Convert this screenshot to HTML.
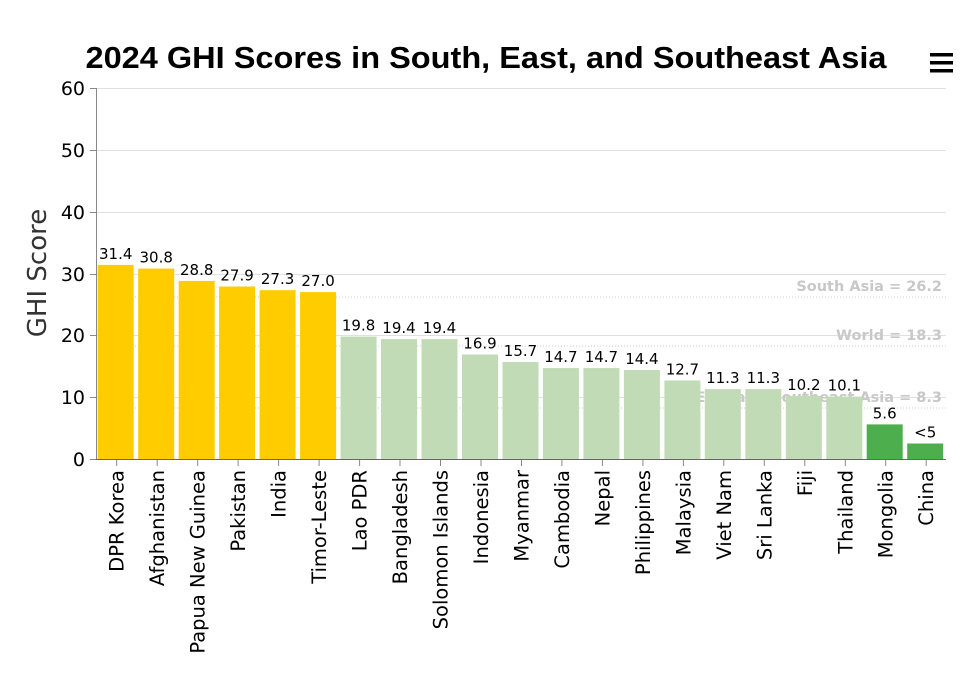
<!DOCTYPE html>
<html><head><meta charset="utf-8"><style>body{margin:0;background:#fff}svg{display:block}</style></head>
<body>
<svg width="973" height="690" xmlns="http://www.w3.org/2000/svg" font-family="'DejaVu Sans','Liberation Sans',sans-serif">
<rect width="973" height="690" fill="#fff"/>
<text x="486" y="68" text-anchor="middle" font-family="'Liberation Sans',sans-serif" font-weight="bold" font-size="31" textLength="801" lengthAdjust="spacingAndGlyphs">2024 GHI Scores in South, East, and Southeast Asia</text>
<g fill="#000"><rect x="930" y="53" width="23" height="3.5"/><rect x="930" y="61" width="23" height="3.5"/><rect x="930" y="69" width="23" height="3.5"/></g>
<g stroke="#e0e0e0" stroke-width="1">
<line x1="96" x2="946" y1="88.5" y2="88.5"/><line x1="96" x2="946" y1="150.5" y2="150.5"/><line x1="96" x2="946" y1="212.5" y2="212.5"/><line x1="96" x2="946" y1="274.5" y2="274.5"/><line x1="96" x2="946" y1="335.5" y2="335.5"/><line x1="96" x2="946" y1="397.5" y2="397.5"/>
</g>
<g stroke="#ccc" stroke-dasharray="1,2"><line x1="96" x2="946" y1="297" y2="297"/><line x1="96" x2="946" y1="346" y2="346"/><line x1="96" x2="946" y1="408" y2="408"/></g>
<g font-size="14.5" font-weight="bold" fill="#c8c8c8" text-anchor="end" font-family="'DejaVu Sans',sans-serif">
<text x="942" y="291">South Asia = 26.2</text><text x="942" y="340">World = 18.3</text><text x="942" y="402">East and Southeast Asia = 8.3</text></g>
<g font-size="19" text-anchor="end" fill="#000"><text x="85" y="95">60</text><text x="85" y="157">50</text><text x="85" y="219">40</text><text x="85" y="281">30</text><text x="85" y="342">20</text><text x="85" y="404">10</text><text x="85" y="466">0</text></g>
<text transform="translate(46,273) rotate(-90)" text-anchor="middle" font-size="26" fill="#333">GHI Score</text>
<g fill="#ffcc00">
<rect x="97.7" y="264.9" width="36" height="194.1"/>
<rect x="138.2" y="268.6" width="36" height="190.4"/>
<rect x="178.7" y="280.9" width="36" height="178.1"/>
<rect x="219.1" y="286.5" width="36" height="172.5"/>
<rect x="259.6" y="290.2" width="36" height="168.8"/>
<rect x="300.1" y="292.1" width="36" height="166.9"/>
</g>
<g fill="#c1dbb6">
<rect x="340.6" y="336.6" width="36" height="122.4"/>
<rect x="381.0" y="339.1" width="36" height="119.9"/>
<rect x="421.5" y="339.1" width="36" height="119.9"/>
<rect x="462.0" y="354.5" width="36" height="104.5"/>
<rect x="502.5" y="361.9" width="36" height="97.1"/>
<rect x="542.9" y="368.1" width="36" height="90.9"/>
<rect x="583.4" y="368.1" width="36" height="90.9"/>
<rect x="623.9" y="370.0" width="36" height="89.0"/>
<rect x="664.4" y="380.5" width="36" height="78.5"/>
<rect x="704.8" y="389.1" width="36" height="69.9"/>
<rect x="745.3" y="389.1" width="36" height="69.9"/>
<rect x="785.8" y="395.9" width="36" height="63.1"/>
<rect x="826.3" y="396.6" width="36" height="62.4"/>
</g>
<g fill="#4cae4c">
<rect x="866.7" y="424.4" width="36" height="34.6"/>
<rect x="907.2" y="443.5" width="36" height="15.5"/>
</g>
<g font-size="15" text-anchor="middle" fill="#000">
<text x="115.7" y="258.9">31.4</text>
<text x="156.2" y="262.6">30.8</text>
<text x="196.7" y="274.9">28.8</text>
<text x="237.1" y="280.5">27.9</text>
<text x="277.6" y="284.2">27.3</text>
<text x="318.1" y="286.1">27.0</text>
<text x="358.6" y="330.6">19.8</text>
<text x="399.0" y="333.1">19.4</text>
<text x="439.5" y="333.1">19.4</text>
<text x="480.0" y="348.5">16.9</text>
<text x="520.5" y="355.9">15.7</text>
<text x="560.9" y="362.1">14.7</text>
<text x="601.4" y="362.1">14.7</text>
<text x="641.9" y="364.0">14.4</text>
<text x="682.4" y="374.5">12.7</text>
<text x="722.8" y="383.1">11.3</text>
<text x="763.3" y="383.1">11.3</text>
<text x="803.8" y="389.9">10.2</text>
<text x="844.3" y="390.6">10.1</text>
<text x="884.7" y="418.4">5.6</text>
<text x="925.2" y="437.5">&lt;5</text>
</g>
<g stroke="#888">
<line x1="116.7" x2="116.7" y1="460" y2="466"/><line x1="157.2" x2="157.2" y1="460" y2="466"/><line x1="197.7" x2="197.7" y1="460" y2="466"/><line x1="238.1" x2="238.1" y1="460" y2="466"/><line x1="278.6" x2="278.6" y1="460" y2="466"/><line x1="319.1" x2="319.1" y1="460" y2="466"/><line x1="359.6" x2="359.6" y1="460" y2="466"/><line x1="400" x2="400" y1="460" y2="466"/><line x1="440.5" x2="440.5" y1="460" y2="466"/><line x1="481" x2="481" y1="460" y2="466"/><line x1="521.5" x2="521.5" y1="460" y2="466"/><line x1="561.9" x2="561.9" y1="460" y2="466"/><line x1="602.4" x2="602.4" y1="460" y2="466"/><line x1="642.9" x2="642.9" y1="460" y2="466"/><line x1="683.4" x2="683.4" y1="460" y2="466"/><line x1="723.8" x2="723.8" y1="460" y2="466"/><line x1="764.3" x2="764.3" y1="460" y2="466"/><line x1="804.8" x2="804.8" y1="460" y2="466"/><line x1="845.3" x2="845.3" y1="460" y2="466"/><line x1="885.7" x2="885.7" y1="460" y2="466"/><line x1="926.2" x2="926.2" y1="460" y2="466"/>
</g>
<g font-size="19.5" text-anchor="end" fill="#000">
<text transform="translate(123.7,470) rotate(-90)">DPR Korea</text>
<text transform="translate(164.2,470) rotate(-90)">Afghanistan</text>
<text transform="translate(204.7,470) rotate(-90)">Papua New Guinea</text>
<text transform="translate(245.1,470) rotate(-90)">Pakistan</text>
<text transform="translate(285.6,470) rotate(-90)">India</text>
<text transform="translate(326.1,470) rotate(-90)">Timor-Leste</text>
<text transform="translate(366.6,470) rotate(-90)">Lao PDR</text>
<text transform="translate(407.0,470) rotate(-90)">Bangladesh</text>
<text transform="translate(447.5,470) rotate(-90)">Solomon Islands</text>
<text transform="translate(488.0,470) rotate(-90)">Indonesia</text>
<text transform="translate(528.5,470) rotate(-90)">Myanmar</text>
<text transform="translate(568.9,470) rotate(-90)">Cambodia</text>
<text transform="translate(609.4,470) rotate(-90)">Nepal</text>
<text transform="translate(649.9,470) rotate(-90)">Philippines</text>
<text transform="translate(690.4,470) rotate(-90)">Malaysia</text>
<text transform="translate(730.8,470) rotate(-90)">Viet Nam</text>
<text transform="translate(771.3,470) rotate(-90)">Sri Lanka</text>
<text transform="translate(811.8,470) rotate(-90)">Fiji</text>
<text transform="translate(852.3,470) rotate(-90)">Thailand</text>
<text transform="translate(892.7,470) rotate(-90)">Mongolia</text>
<text transform="translate(933.2,470) rotate(-90)">China</text>
</g>
<line x1="96.5" x2="96.5" y1="88" y2="459" stroke="#888"/>
<g stroke="#888"><line x1="90" x2="96" y1="88.5" y2="88.5"/><line x1="90" x2="96" y1="150.5" y2="150.5"/><line x1="90" x2="96" y1="212.5" y2="212.5"/><line x1="90" x2="96" y1="274.5" y2="274.5"/><line x1="90" x2="96" y1="335.5" y2="335.5"/><line x1="90" x2="96" y1="397.5" y2="397.5"/><line x1="90" x2="96" y1="459.5" y2="459.5"/></g>
<line x1="96" x2="946" y1="459.5" y2="459.5" stroke="#666"/>
</svg>
</body></html>
